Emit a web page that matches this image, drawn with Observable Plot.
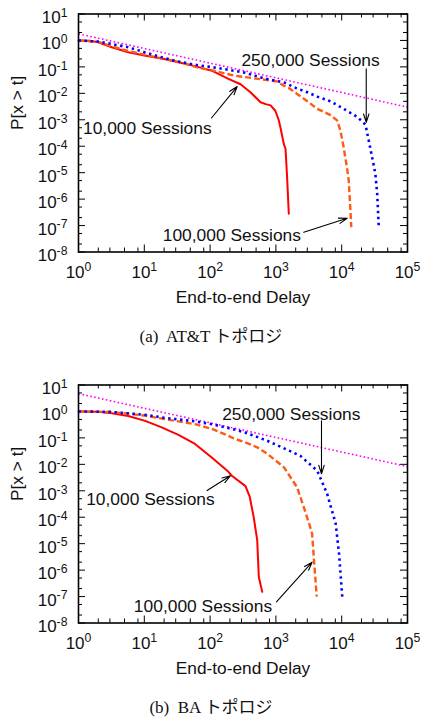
<!DOCTYPE html>
<html>
<head>
<meta charset="utf-8">
<script src="https://cdn.jsdelivr.net/npm/d3@7"></script>
<script src="https://cdn.jsdelivr.net/npm/@observablehq/plot@0.6"></script>
<style>
  html, body { margin: 0; padding: 0; background: #fff; }
  #wrap { position: relative; width: 422px; height: 720px; }
  .panel { position: absolute; left: 0; }
  .cap { position: absolute; left: 0; width: 422px; text-align: center;
         font-family: "Liberation Serif", "Noto Sans CJK JP", serif; font-size: 17px;
         line-height: 24px; height: 24px; color: #111; white-space: pre; }
</style>
</head>
<body>
<div id="wrap">
  <div id="pa" class="panel" style="top:0px"></div>
  <div class="cap" style="top:325px">(a)  AT&amp;T トポロジ</div>
  <div id="pb" class="panel" style="top:371px"></div>
  <div class="cap" style="top:696px">(b)  BA トポロジ</div>
</div>
<script>
// ---------- data ----------
const xMajor = [1, 10, 100, 1000, 10000, 100000];
const yMajor = [1e1, 1e0, 1e-1, 1e-2, 1e-3, 1e-4, 1e-5, 1e-6, 1e-7, 1e-8];
const xMinorMult = [2, 3, 5, 8];
const yMinorMult = [2, 5];
const xLabel = "End-to-end Delay";
const yLabel = "P[x > t]";
const seriesNames = ["10,000 Sessions", "100,000 Sessions", "250,000 Sessions"];

// Panel (a) AT&T
const att10k = [[1,1.0],[1.5,0.97],[2,0.85],[3.2,0.55],[5.7,0.36],[10,0.27],[20,0.2],[33,0.15],[59,0.107],[106,0.072],[190,0.035],[290,0.022],[410,0.011],[585,0.0046],[700,0.0039],[830,0.0035],[980,0.0022],[1100,0.001],[1170,5.2e-4],[1320,1.2e-4],[1400,8e-5],[1480,6.8e-6],[1570,2.8e-7]];
const att100k = [[1,1.0],[2,0.88],[3.2,0.6],[5.7,0.4],[10,0.29],[33,0.155],[71,0.09],[106,0.075],[229,0.047],[500,0.036],[1050,0.028],[1300,0.02],[1570,0.016],[2100,0.0095],[3000,0.005],[4260,0.0026],[6760,0.0015],[8500,9.5e-4],[9560,3.9e-4],[10700,9.1e-5],[12000,1.6e-5],[12800,5e-6],[13300,8.9e-7],[14000,8.7e-8]];
const att250k = [[1,1.0],[2,0.9],[3.2,0.74],[5.7,0.55],[10,0.36],[18.5,0.23],[33,0.16],[59,0.12],[106,0.098],[190,0.078],[340,0.06],[650,0.037],[1320,0.026],[2000,0.016],[3000,0.011],[4260,0.0075],[6760,0.005],[12000,0.0022],[17200,0.0013],[23000,6.5e-4],[25800,1.6e-4],[29000,3.8e-5],[32500,9e-6],[34600,1.6e-6],[36600,8.7e-8]];
const attFit = [[1,1.78],[100000,0.003]];
const attNotes = [
  {text: "250,000 Sessions", x: 3360, y: 0.106, x1: 23600, y1: 0.085, x2: 23600, y2: 8e-4},
  {text: "10,000 Sessions", x: 11.1, y: 3.0e-4, x1: 105, y1: 1.17e-3, x2: 258, y2: 0.018},
  {text: "100,000 Sessions", x: 214, y: 2.7e-8, x1: 2650, y1: 5.6e-8, x2: 12100, y2: 1.9e-7}
];

// Panel (b) BA
const ba10k = [[1,1.0],[2,0.97],[3.2,0.85],[5.7,0.67],[10.3,0.44],[18.4,0.25],[33,0.13],[59,0.059],[106,0.018],[190,0.0052],[214,0.0037],[345,0.0015],[400,6e-4],[460,1e-4],[520,1.35e-5],[550,5.5e-7],[620,1.5e-7]];
const ba100k = [[1,1.0],[3,0.95],[5.7,0.82],[10,0.7],[20,0.52],[59,0.33],[106,0.22],[190,0.12],[229,0.095],[340,0.068],[520,0.044],[740,0.025],[1320,0.0078],[2100,0.00135],[2650,2.4e-4],[3200,5.7e-5],[3550,2.4e-5],[3800,2.3e-6],[4170,1e-7]];
const ba250k = [[1,1.0],[3,0.96],[5.7,0.85],[10,0.75],[20,0.58],[59,0.42],[106,0.33],[229,0.21],[340,0.16],[740,0.078],[2350,0.021],[4260,0.0057],[6000,7.8e-4],[7600,1e-4],[8100,5.7e-5],[9100,4.3e-6],[9600,7.4e-7],[10200,1e-7]];
const baFit = [[1,4.7],[100000,0.0082]];
const baNotes = [
  {text: "250,000 Sessions", x: 1714, y: 0.469, x1: 4930, y1: 0.44, x2: 4930, y2: 0.0044},
  {text: "10,000 Sessions", x: 12.4, y: 2.78e-4, x1: 90, y1: 1.02e-3, x2: 204, y2: 0.0037},
  {text: "100,000 Sessions", x: 78, y: 2.67e-8, x1: 1020, y1: 6.3e-8, x2: 3560, y2: 2e-6}
];

// ---------- drawing ----------
const W = 422, H = 310, ML = 78, MR = 15, MT = 13.5, MB = 58.5;
const FW = W - ML - MR, FH = H - MT - MB;
const font = "'Liberation Sans', Arial, Helvetica, sans-serif";

function minorTicks(majors, mults) {
  const out = [];
  for (let i = 0; i < majors.length - 1; i++) {
    const lo = Math.min(majors[i], majors[i + 1]);
    for (const m of mults) out.push(lo * m);
  }
  return out;
}
const fmt = d => "10^" + Math.round(Math.log10(d));

function panel(s10, s100, s250, fit, notes) {
  const xMinor = minorTicks(xMajor, xMinorMult);
  const yMinor = minorTicks(yMajor, yMinorMult);
  const svg = Plot.plot({
    width: W, height: H,
    marginLeft: ML, marginRight: MR, marginTop: MT, marginBottom: MB,
    style: {fontFamily: font, fontSize: "17px", color: "#111", background: "white"},
    x: {type: "log", domain: [1, 1e5], axis: null},
    y: {type: "log", domain: [1e-8, 10], axis: null},
    marks: [
      // tick labels
      Plot.axisX(xMajor, {tickSize: 0, tickPadding: 13.5, tickFormat: fmt, fontSize: 17, fill: "#111"}),
      Plot.axisY(yMajor, {tickSize: 0, tickPadding: 11, tickFormat: fmt, fontSize: 17, fill: "#111", dy: 3.5}),
      // inward ticks on all four sides
      Plot.tickX(xMajor, {x: d => d, insetTop: FH - 7, stroke: "#000", strokeWidth: 1}),
      Plot.tickX(xMajor, {x: d => d, insetBottom: FH - 7, stroke: "#000", strokeWidth: 1}),
      Plot.tickX(xMinor, {x: d => d, insetTop: FH - 4, stroke: "#000", strokeWidth: 1}),
      Plot.tickX(xMinor, {x: d => d, insetBottom: FH - 4, stroke: "#000", strokeWidth: 1}),
      Plot.tickY(yMajor, {y: d => d, insetRight: FW - 7, stroke: "#000", strokeWidth: 1}),
      Plot.tickY(yMajor, {y: d => d, insetLeft: FW - 7, stroke: "#000", strokeWidth: 1}),
      Plot.tickY(yMinor, {y: d => d, insetRight: FW - 4, stroke: "#000", strokeWidth: 1}),
      Plot.tickY(yMinor, {y: d => d, insetLeft: FW - 4, stroke: "#000", strokeWidth: 1}),
      // series
      Plot.line(fit, {x: d => d[0], y: d => d[1], stroke: "#ff00ff", strokeWidth: 1.6, strokeDasharray: "1.6,2.4", strokeLinecap: "butt"}),
      Plot.line(s10, {x: d => d[0], y: d => d[1], stroke: "#ff0000", strokeWidth: 2}),
      Plot.line(s100, {x: d => d[0], y: d => d[1], stroke: "#ff5a14", strokeWidth: 2.4, strokeDasharray: "6,3", strokeLinecap: "butt"}),
      Plot.line(s250, {x: d => d[0], y: d => d[1], stroke: "#0000ff", strokeWidth: 2.6, strokeDasharray: "2.4,3.6", strokeLinecap: "butt"}),
      // annotations
      Plot.arrow(notes, {x1: "x1", y1: "y1", x2: "x2", y2: "y2", stroke: "#000", strokeWidth: 1.1, headLength: 12, headAngle: 36}),
      Plot.text(notes, {x: "x", y: "y", text: "text", lineAnchor: "bottom", fontSize: 17.4, fill: "#111"}),
      // axis titles
      Plot.text([xLabel], {frameAnchor: "bottom", text: d => d, lineAnchor: "bottom", dy: 51, fontSize: 17.3, fill: "#111"}),
      Plot.text([yLabel], {frameAnchor: "left", text: d => d, rotate: -90, dx: -61, dy: -3, fontSize: 17.3, fill: "#111"}),
      Plot.frame({stroke: "#000", strokeWidth: 1.6})
    ]
  });
  // render superscript exponents as real tspans
  for (const t of svg.querySelectorAll('g[aria-label$="tick label"] text')) {
    const s = t.textContent;
    if (!s.includes("^")) continue;
    const [b, e] = s.split("^");
    t.textContent = b;
    const ts = document.createElementNS("http://www.w3.org/2000/svg", "tspan");
    ts.setAttribute("dy", "-0.5em");
    ts.setAttribute("font-size", "0.72em");
    ts.textContent = e;
    t.appendChild(ts);
  }
  return svg;
}

document.getElementById("pa").appendChild(panel(att10k, att100k, att250k, attFit, attNotes));
document.getElementById("pb").appendChild(panel(ba10k, ba100k, ba250k, baFit, baNotes));
</script>
</body>
</html>
